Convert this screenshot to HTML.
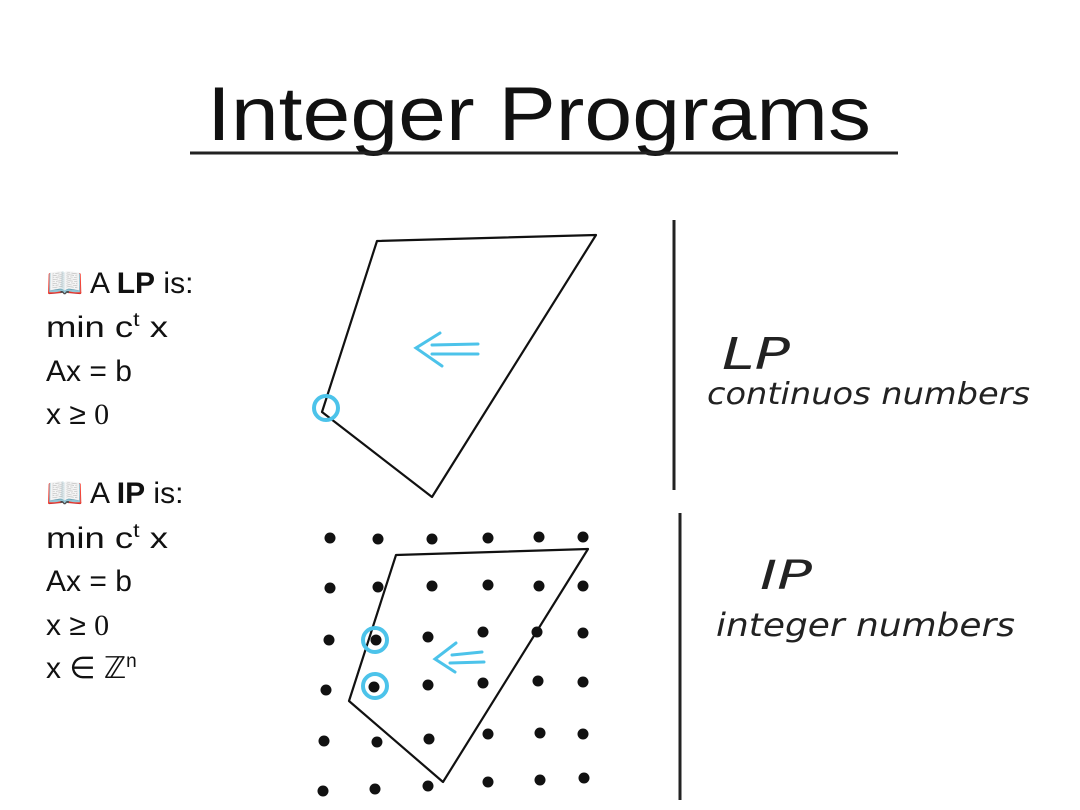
<!DOCTYPE html>
<html><head><meta charset="utf-8"><style>
html,body{margin:0;padding:0;background:#fff;width:1080px;height:810px;overflow:hidden}
</style></head><body>
<svg width="1080" height="810" viewBox="0 0 1080 810" xmlns="http://www.w3.org/2000/svg">
<rect width="1080" height="810" fill="#fff"/>
<text x="207" y="140" font-family="Liberation Sans, sans-serif" font-size="76" textLength="664" lengthAdjust="spacingAndGlyphs" fill="#111">Integer Programs</text>
<line x1="190" y1="153" x2="898" y2="153" stroke="#222" stroke-width="3"/>
<g font-family="Liberation Sans, DejaVu Sans, sans-serif" font-size="30" fill="#111">
<text x="46" y="293">📖 A <tspan font-weight="bold">LP</tspan> is:</text>
<text x="46" y="337" textLength="122" lengthAdjust="spacingAndGlyphs">min c<tspan font-size="19" dy="-11">t</tspan><tspan dy="11"> x</tspan></text>
<text x="46" y="381">Ax = b</text>
<text x="46" y="424">x ≥ <tspan font-family="Liberation Serif, serif">0</tspan></text>
<text x="46" y="503">📖 A <tspan font-weight="bold">IP</tspan> is:</text>
<text x="46" y="548" textLength="122" lengthAdjust="spacingAndGlyphs">min c<tspan font-size="19" dy="-11">t</tspan><tspan dy="11"> x</tspan></text>
<text x="46" y="591">Ax = b</text>
<text x="46" y="635">x ≥ <tspan font-family="Liberation Serif, serif">0</tspan></text>
<text x="46" y="678">x ∈ <tspan font-family="DejaVu Sans, serif">ℤ</tspan><tspan font-size="19" dy="-11">n</tspan></text>
</g>
<polygon points="377,241 596,235 432,497 322,412" fill="none" stroke="#111" stroke-width="2.2" stroke-linejoin="round"/>
<circle cx="326" cy="408" r="12" fill="none" stroke="#4cc3ea" stroke-width="4"/>
<g stroke="#4cc3ea" stroke-width="3" fill="none" stroke-linecap="round">
<polyline points="440,333 416,348 442,366"/>
<line x1="432" y1="345" x2="478" y2="344"/>
<line x1="432" y1="354" x2="478" y2="354"/>
</g>
<line x1="674" y1="220" x2="674" y2="490" stroke="#222" stroke-width="3"/>
<line x1="680" y1="513" x2="680" y2="800" stroke="#222" stroke-width="3"/>
<g fill="#111">
<circle cx="330" cy="538" r="5.5"/><circle cx="378" cy="539" r="5.5"/><circle cx="432" cy="539" r="5.5"/><circle cx="488" cy="538" r="5.5"/><circle cx="539" cy="537" r="5.5"/><circle cx="583" cy="537" r="5.5"/>
<circle cx="330" cy="588" r="5.5"/><circle cx="378" cy="587" r="5.5"/><circle cx="432" cy="586" r="5.5"/><circle cx="488" cy="585" r="5.5"/><circle cx="539" cy="586" r="5.5"/><circle cx="583" cy="586" r="5.5"/>
<circle cx="329" cy="640" r="5.5"/><circle cx="376" cy="640" r="5.5"/><circle cx="428" cy="637" r="5.5"/><circle cx="483" cy="632" r="5.5"/><circle cx="537" cy="632" r="5.5"/><circle cx="583" cy="633" r="5.5"/>
<circle cx="326" cy="690" r="5.5"/><circle cx="374" cy="687" r="5.5"/><circle cx="428" cy="685" r="5.5"/><circle cx="483" cy="683" r="5.5"/><circle cx="538" cy="681" r="5.5"/><circle cx="583" cy="682" r="5.5"/>
<circle cx="324" cy="741" r="5.5"/><circle cx="377" cy="742" r="5.5"/><circle cx="429" cy="739" r="5.5"/><circle cx="488" cy="734" r="5.5"/><circle cx="540" cy="733" r="5.5"/><circle cx="583" cy="734" r="5.5"/>
<circle cx="323" cy="791" r="5.5"/><circle cx="375" cy="789" r="5.5"/><circle cx="428" cy="786" r="5.5"/><circle cx="488" cy="782" r="5.5"/><circle cx="540" cy="780" r="5.5"/><circle cx="584" cy="778" r="5.5"/>
</g>
<polygon points="396,555 588,549 443,782 349,701" fill="none" stroke="#111" stroke-width="2.2" stroke-linejoin="round"/>
<circle cx="375" cy="640" r="12" fill="none" stroke="#4cc3ea" stroke-width="4"/>
<circle cx="375" cy="686" r="12" fill="none" stroke="#4cc3ea" stroke-width="4"/>
<g stroke="#4cc3ea" stroke-width="3" fill="none" stroke-linecap="round">
<polyline points="456,643 435,659 455,672"/>
<line x1="452" y1="655" x2="482" y2="652"/>
<line x1="450" y1="663" x2="484" y2="662"/>
</g>
<g font-family="DejaVu Sans, sans-serif" font-style="italic" fill="#222" font-weight="normal">
<text x="722" y="369" font-size="44" textLength="68" lengthAdjust="spacingAndGlyphs">LP</text>
<text x="707" y="404" font-size="30" textLength="323" lengthAdjust="spacingAndGlyphs">continuos numbers</text>
<text x="760" y="589" font-size="40" textLength="52" lengthAdjust="spacingAndGlyphs">IP</text>
<text x="716" y="636" font-size="32" textLength="299" lengthAdjust="spacingAndGlyphs">integer numbers</text>
</g>
</svg>
</body></html>
